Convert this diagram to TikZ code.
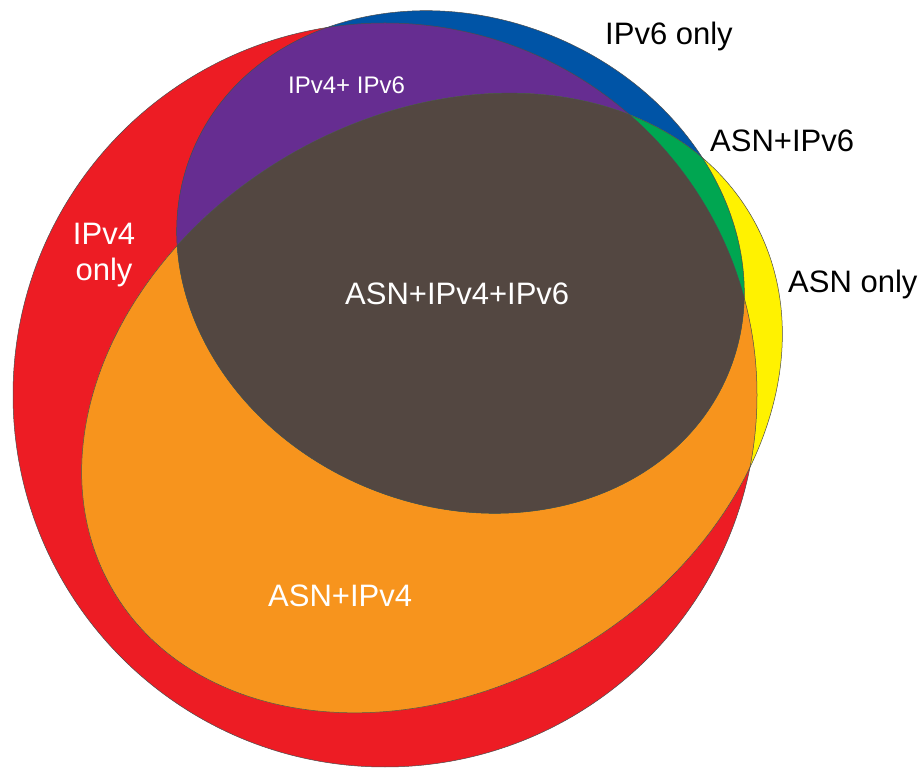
\documentclass[tikz,border=0pt]{standalone}
\usepackage{xcolor}
\usepackage{fontspec}
\setmainfont{Liberation Sans}
\usepackage{tikz}
\usetikzlibrary{positioning,calc}

\definecolor{vfourred}{HTML}{ED1C24}
\definecolor{vsixblue}{HTML}{0054A6}
\definecolor{asnyellow}{HTML}{FFF200}
\definecolor{bothpurple}{HTML}{662D91}
\definecolor{asnorange}{HTML}{F7941D}
\definecolor{asngreen}{HTML}{00A651}
\definecolor{alldark}{HTML}{534741}

\tikzset{
    setname/.style={font=\fontsize{31}{36}\selectfont, inner sep=0pt},
    rim/.style={draw=black!70, line width=0.5pt},
    sixtilt/.style={rotate around={-22.5:(460.5,507)}},
    asntilt/.style={rotate around={30.5:(432,366)}}
}

\begin{document}
\begin{tikzpicture}[x=1pt,y=1pt]
        \useasboundingbox (0,0) rectangle (924,769);
        % single sets
        \fill[vfourred] (385,374) circle (372);
        \fill[vsixblue, sixtilt] (460.5,507) ellipse (290 and 244);
        \fill[asnyellow, asntilt] (432,366) ellipse (370 and 286);
        % overlaps with IPv4
        \begin{scope}
            \clip (385,374) circle (372);
            \fill[bothpurple, sixtilt] (460.5,507) ellipse (290 and 244);
            \fill[asnorange, asntilt] (432,366) ellipse (370 and 286);
        \end{scope}
        % overlaps with IPv6
        \begin{scope}
            \clip[sixtilt] (460.5,507) ellipse (290 and 244);
            \fill[asngreen, asntilt] (432,366) ellipse (370 and 286);
            \clip (385,374) circle (372);
            \fill[alldark, asntilt] (432,366) ellipse (370 and 286);
        \end{scope}
        % outlines
        \draw[rim] (385,374) circle (372);
        \draw[rim, sixtilt] (460.5,507) ellipse (290 and 244);
        \draw[rim, asntilt] (432,366) ellipse (370 and 286);

        \node[setname, anchor=base west] (sixonly) at (605,724) {IPv6 only};
        \node[setname, anchor=base west] (asnsix) at (710,617) {ASN+IPv6};
        \node[setname, anchor=base west] (asnonly) at (788,476) {ASN only};
        \node[setname, white, align=center] (fouronly) at (104,514) {IPv4\\only};
        \node[setname, white, anchor=base west, font=\fontsize{24}{28}\selectfont] (foursix) at (288,675) {IPv4+ IPv6};
        \node[setname, white, anchor=base west] (allthree) at (345,464) {ASN+IPv4+IPv6};
        \node[setname, white, anchor=base west] (asnfour) at (268,162) {ASN+IPv4};
    \end{tikzpicture}
\end{document}
